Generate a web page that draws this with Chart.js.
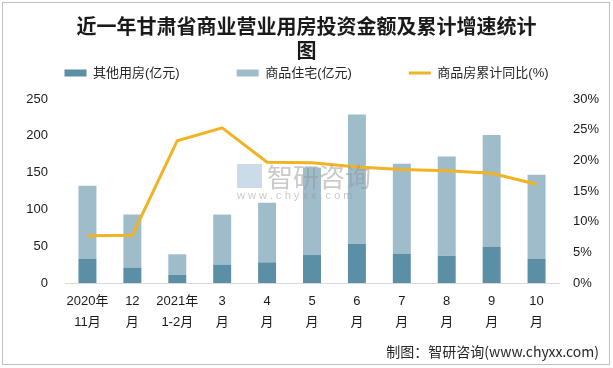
<!DOCTYPE html>
<html>
<head>
<meta charset="utf-8">
<script src="https://cdn.jsdelivr.net/npm/chart.js@4.4.0/dist/chart.umd.min.js"></script>
<style>
  html, body { margin: 0; padding: 0; background: #fff; }
  #wrap { width: 613px; height: 368px; position: relative; }
</style>
</head>
<body>
<div id="wrap"><canvas id="chart" width="613" height="368"></canvas></div>
<script>
const titleLines = ['近一年甘肃省商业营业用房投资金额及累计增速统计', '图'];
const categories = [
    ['2020年', '11月'], ['12', '月'], ['2021年', '1-2月'], ['3', '月'], ['4', '月'],
    ['5', '月'], ['6', '月'], ['7', '月'], ['8', '月'], ['9', '月'], ['10', '月']
];
// 亿元
const otherBuildings = [33, 21, 11, 25, 28, 38, 53, 40, 37, 49, 33];
const residential = [99, 72, 28, 68, 81, 119, 176, 122, 135, 152, 114];
// %
const cumulativeGrowth = [7.7, 7.8, 23.2, 25.3, 19.7, 19.6, 18.9, 18.5, 18.3, 17.9, 16.1];
const leftTicks = [0, 50, 100, 150, 200, 250];
const rightTicks = [0, 5, 10, 15, 20, 25, 30];
const sourceText = '制图：智研咨询(www.chyxx.com)';

const FONT = '"Liberation Sans", "Noto Sans CJK SC", sans-serif';

// frame, watermark and source line
const decorations = {
    id: 'decorations',
    afterDatasetsDraw(chart) {
        const ctx = chart.ctx;
        ctx.save();
        ctx.fillStyle = 'rgba(150,150,150,0.5)';
        ctx.font = '26px "Noto Sans CJK SC", sans-serif';
        ctx.textBaseline = 'middle';
        ctx.textAlign = 'left';
        ctx.fillText('智研咨询', 267, 177);
        ctx.font = '11px "Liberation Sans", sans-serif';
        ctx.fillText('w w w . c h y x x . c o m', 237, 196);
        ctx.fillStyle = 'rgba(170,195,220,0.6)';
        ctx.fillRect(237, 164, 25, 24);
        ctx.restore();
    },
    afterDraw(chart) {
        const ctx = chart.ctx;
        ctx.save();
        ctx.strokeStyle = '#bfbfbf';
        ctx.lineWidth = 1;
        ctx.strokeRect(2.5, 2.5, 607, 362);
        ctx.fillStyle = '#262626';
        ctx.font = '14px "Noto Sans CJK SC", sans-serif';
        ctx.textAlign = 'right';
        ctx.textBaseline = 'middle';
        ctx.fillText(sourceText, 599, 352);
        ctx.restore();
    }
};

new Chart(document.getElementById('chart'), {
    type: 'bar',
    data: {
        labels: categories,
        datasets: [
            {
                label: '其他用房(亿元)',
                data: otherBuildings,
                backgroundColor: '#5b8fa6',
                borderWidth: 0,
                pointStyle: 'rect',
                yAxisID: 'y',
                barPercentage: 0.4,
                categoryPercentage: 1,
                order: 1
            },
            {
                label: '商品住宅(亿元)',
                data: residential,
                backgroundColor: '#9fbccb',
                borderWidth: 0,
                pointStyle: 'rect',
                yAxisID: 'y',
                barPercentage: 0.4,
                categoryPercentage: 1,
                order: 1
            },
            {
                type: 'line',
                label: '商品房累计同比(%)',
                data: cumulativeGrowth,
                borderColor: '#f0b323',
                backgroundColor: '#f0b323',
                borderWidth: 3,
                pointRadius: 0,
                pointStyle: 'line',
                tension: 0,
                yAxisID: 'y1',
                order: 0
            }
        ]
    },
    options: {
        responsive: false,
        animation: false,
        layout: { padding: { left: 0, right: 0, top: 0, bottom: 35 } },
        plugins: {
            title: {
                display: true,
                text: titleLines,
                color: '#1a1a1a',
                font: { family: '"Noto Sans CJK SC", sans-serif', size: 20, weight: 'bold', lineHeight: 1.2 },
                padding: { top: 14, bottom: -52.5 }
            },
            subtitle: {
                display: true,
                text: '',
                weight: 500,
                font: { size: 9.5, lineHeight: 1 },
                padding: 0
            },
            legend: {
                labels: {
                    usePointStyle: true,
                    pointStyleWidth: 22,
                    boxHeight: 7,
                    padding: 57,
                    color: '#262626',
                    font: { family: FONT, size: 13 },
                    sort: (a, b) => a.datasetIndex - b.datasetIndex
                }
            },
            tooltip: { enabled: false }
        },
        scales: {
            x: {
                stacked: true,
                grid: { display: false, drawTicks: false },
                border: { color: '#d9d9d9' },
                ticks: {
                    color: '#1a1a1a',
                    font: { family: FONT, size: 13, lineHeight: 1.6 },
                    padding: 8,
                    maxRotation: 0,
                    autoSkip: false
                },
                afterFit(scale) { scale.height = 50; }
            },
            y: {
                stacked: true,
                position: 'left',
                min: 0,
                max: 250,
                grid: { display: false, drawTicks: false },
                border: { display: false },
                afterBuildTicks(scale) { scale.ticks = leftTicks.map(v => ({ value: v })); },
                ticks: {
                    color: '#1a1a1a',
                    font: { family: FONT, size: 13 },
                    padding: 17
                },
                afterFit(scale) { scale.width = 65; }
            },
            y1: {
                position: 'right',
                min: 0,
                max: 30,
                grid: { display: false, drawTicks: false },
                border: { display: false },
                afterBuildTicks(scale) { scale.ticks = rightTicks.map(v => ({ value: v })); },
                ticks: {
                    color: '#1a1a1a',
                    font: { family: FONT, size: 13 },
                    padding: 14,
                    callback: v => v + '%'
                },
                afterFit(scale) { scale.width = 54; }
            }
        }
    },
    plugins: [decorations]
});
</script>
</body>
</html>
